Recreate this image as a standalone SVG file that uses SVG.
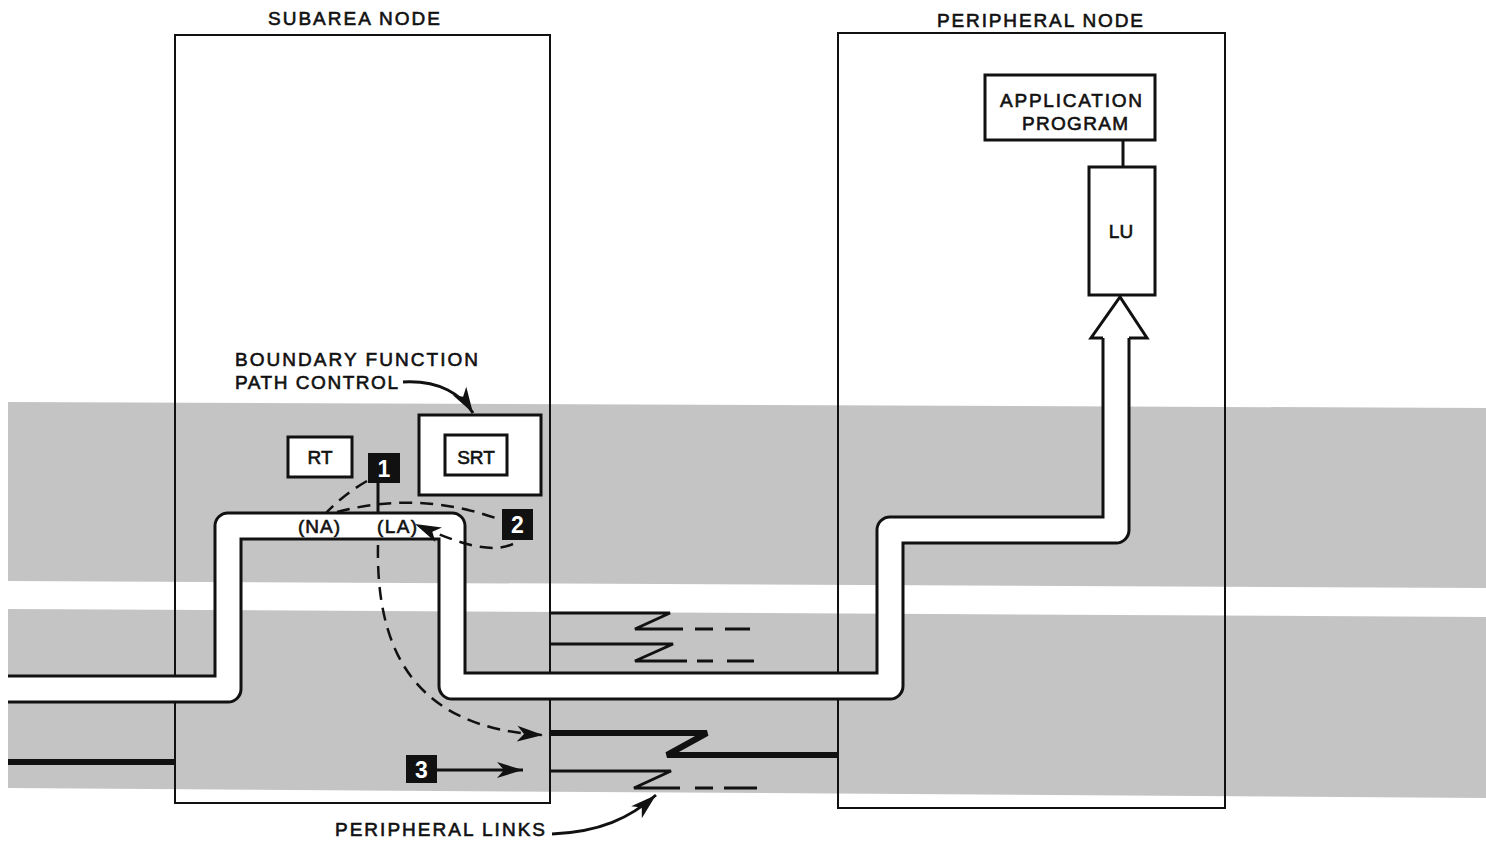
<svg xmlns="http://www.w3.org/2000/svg" width="1486" height="845" viewBox="0 0 1486 845">
<style>
.t{font-family:"Liberation Sans",Arial,sans-serif;font-size:19px;fill:#111;stroke:#111;stroke-width:0.6}
.box{fill:none;stroke:#111;stroke-width:2}
.nbox{fill:#fff;stroke:#111;stroke-width:3}
.badge{fill:#111}
.bt{font-family:"Liberation Sans",Arial,sans-serif;font-size:23px;font-weight:bold;fill:#fff;text-anchor:middle}
.dash{fill:none;stroke:#111;stroke-width:2.5;stroke-dasharray:13 8}
.ln{fill:none;stroke:#111;stroke-width:3}
.thick{fill:none;stroke:#111;stroke-width:6}
.pipeo{fill:none;stroke:#111;stroke-width:29;stroke-linejoin:round}
.pipei{fill:none;stroke:#fff;stroke-width:23;stroke-linejoin:round}
</style>
<defs>
<marker id="ah" markerUnits="userSpaceOnUse" markerWidth="28" markerHeight="20" refX="26" refY="10" orient="auto">
<path d="M0,2 L26,10 L0,18 L7,10 Z" fill="#111"/>
</marker>
</defs>
<rect width="1486" height="845" fill="#fff"/>
<g id="bands">
<polygon points="8,402 1486,408 1486,588 8,581" fill="#c4c4c4"/>
<polygon points="8,609 1486,617 1486,798 8,788" fill="#c4c4c4"/>
</g>
<g id="subarea-node">
<rect class="box" x="175" y="35" width="375" height="768"/>
<text class="t" x="268" y="25" textLength="172" lengthAdjust="spacing">SUBAREA NODE</text>
</g>
<g id="peripheral-node">
<rect class="box" x="838" y="33" width="387" height="775"/>
<text class="t" x="937" y="27" textLength="206" lengthAdjust="spacing">PERIPHERAL NODE</text>
</g>
<g id="connectors">
<path class="thick" d="M8,762 L175,762"/>
<path class="ln" d="M550,613 L670,613 L635,629 L683,629"/>
<path class="ln" d="M695,629 L713,629 M725,629 L750,629"/>
<path class="ln" d="M550,644 L673,644 L635,661 L687,661"/>
<path class="ln" d="M697,661 L713,661 M727,661 L754,661"/>
<path class="thick" d="M550,733 L707,733 L667,755 L838,755"/>
<path class="ln" d="M550,771 L671,771 L634,788 L680,788"/>
<path class="ln" d="M695,788 L713,788 M724,788 L757,788"/>
<path class="ln" d="M1123,140 L1123,167" stroke-width="4"/>
<path class="pipeo" d="M8,689 L228,689 L228,526 L452,526 L452,686 L890,686 L890,530 L1116,530 L1116,338"/>
<path class="pipei" d="M6,689 L228,689 L228,526 L452,526 L452,686 L890,686 L890,530 L1116,530 L1116,336"/>
<path d="M1103,338 L1091,338 L1120,297 L1147,338 L1129,338" fill="#fff" stroke="#111" stroke-width="3" stroke-linejoin="miter"/>
<path class="ln" d="M378,483 L378,512" stroke-width="2.5"/>
<path class="dash" d="M367,481 Q344,494 326,513"/>
<path class="dash" d="M337,512 Q420,490 501,520"/>
<path class="dash" d="M513,544 C492,553 466,547 415,524" marker-end="url(#ah)"/>
<path class="dash" d="M378,545 C376,645 410,728 543,735" marker-end="url(#ah)"/>
<path class="ln" d="M437,770 L523,770" stroke-width="2.5" marker-end="url(#ah)"/>
<path class="ln" d="M403,382 C440,380 462,395 473,413" stroke-width="3" marker-end="url(#ah)"/>
<path class="ln" d="M552,834 C600,832 630,818 656,795" stroke-width="3" marker-end="url(#ah)"/>
</g>
<g id="rt">
<rect class="nbox" x="288" y="437" width="64" height="40"/>
<text class="t" x="320" y="464" text-anchor="middle">RT</text>
</g>
<g id="srt">
<rect class="nbox" x="419" y="415" width="122" height="80"/>
<rect class="nbox" x="445" y="435" width="62" height="40"/>
<text class="t" x="476" y="464" text-anchor="middle">SRT</text>
</g>
<g id="boundary-label">
<text class="t" x="235" y="366" textLength="243" lengthAdjust="spacing">BOUNDARY FUNCTION</text>
<text class="t" x="235" y="389" textLength="163" lengthAdjust="spacing">PATH CONTROL</text>
</g>
<g id="addresses">
<text class="t" x="298" y="533" textLength="42" lengthAdjust="spacing">(NA)</text>
<text class="t" x="377" y="533" textLength="40" lengthAdjust="spacing">(LA)</text>
</g>
<g id="badge-1">
<rect class="badge" x="368" y="453" width="32" height="30"/>
<text class="bt" x="384" y="477">1</text>
</g>
<g id="badge-2">
<rect class="badge" x="502" y="509" width="31" height="31"/>
<text class="bt" x="517.5" y="533">2</text>
</g>
<g id="badge-3">
<rect class="badge" x="406" y="755" width="31" height="28"/>
<text class="bt" x="421.5" y="778">3</text>
</g>
<g id="app-program">
<rect class="nbox" x="985" y="75" width="170" height="65"/>
<text class="t" x="1000" y="107" textLength="142" lengthAdjust="spacing">APPLICATION</text>
<text class="t" x="1022" y="130" textLength="106" lengthAdjust="spacing">PROGRAM</text>
</g>
<g id="lu">
<rect class="nbox" x="1089" y="167" width="66" height="128"/>
<text class="t" x="1121" y="238" text-anchor="middle">LU</text>
</g>
<g id="links-label">
<text class="t" x="335" y="836" textLength="210" lengthAdjust="spacing">PERIPHERAL LINKS</text>
</g>
</svg>
